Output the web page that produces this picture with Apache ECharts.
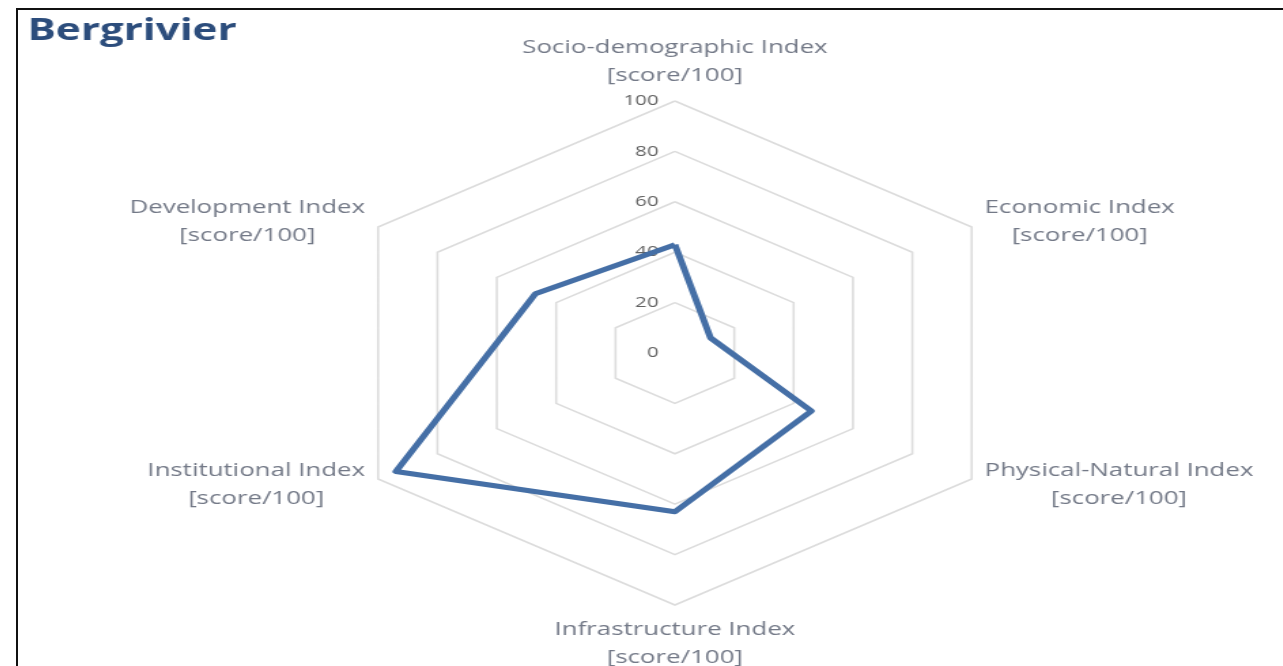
<!DOCTYPE html>
<html>
<head>
<meta charset="utf-8">
<script src="https://cdn.jsdelivr.net/npm/echarts@6/dist/echarts.min.js"></script>
<style>
  html, body { margin: 0; padding: 0; background: #fff; }
  .frame {
    position: absolute; left: 16px; top: 8px; width: 1265px; height: 670px;
    border-left: 2px solid #111; border-top: 2px solid #111; border-right: 1px solid #bbb;
    overflow: hidden;
  }
  /* the source picture is stretched sideways, so stretch the chart the same way */
  #radar {
    position: absolute; left: 0; top: 0; width: 930px; height: 656px;
    transform: scaleX(1.36); transform-origin: left top;
  }
</style>
</head>
<body>
<div class="frame"><div id="radar"></div></div>
<script>
// indicators, clockwise from the top
var indexNames = [
  "Socio-demographic Index",
  "Economic Index",
  "Physical-Natural Index",
  "Infrastructure Index",
  "Institutional Index",
  "Development Index"
];
var unitLabel = "[score/100]";
var scores = [43, 12, 46, 63, 94, 47];
var maxScore = 100;
var tickStep = 20;

// echarts lays indicators out counter-clockwise, so flip the order after the first one
var order = [0, 5, 4, 3, 2, 1];

var indicators = order.map(function (i, k) {
  var ind = { name: indexNames[i], max: maxScore, min: 0 };
  if (k === 0) {
    ind.axisLabel = { show: true };
  }
  return ind;
});
var values = order.map(function (i) { return scores[i]; });

var chart = echarts.init(document.getElementById("radar"));
var option = {
  animation: false,
  title: {
    text: "Bergrivier",
    left: 2,
    top: 1,
    textStyle: {
      fontFamily: "Open Sans",
      fontSize: 31,
      fontWeight: "bold",
      color: "#2c4d7c"
    }
  },
  radar: {
    center: [483, 343],
    radius: 252,
    startAngle: 90,
    shape: "polygon",
    splitNumber: maxScore / tickStep,
    indicator: indicators,
    nameGap: 11,
    axisName: {
      formatter: function (name) {
        return "{a|" + name + "}\n{a|" + unitLabel + "}";
      },
      rich: {
        a: {
          align: "center",
          fontFamily: "Open Sans",
          fontSize: 19,
          lineHeight: 28,
          color: "#737987"
        }
      }
    },
    axisLine: { show: false },
    axisTick: { show: false },
    axisLabel: {
      show: false,
      margin: 12,
      fontFamily: "Open Sans",
      fontSize: 15,
      color: "#626262"
    },
    splitLine: {
      lineStyle: { color: "#dcdcdc", width: 1.6 }
    },
    splitArea: { show: false }
  },
  series: [
    {
      type: "radar",
      symbol: "none",
      lineStyle: { color: "#456fa6", width: 5 },
      data: [{ value: values, name: "Bergrivier" }]
    }
  ]
};
chart.setOption(option);
</script>
</body>
</html>
